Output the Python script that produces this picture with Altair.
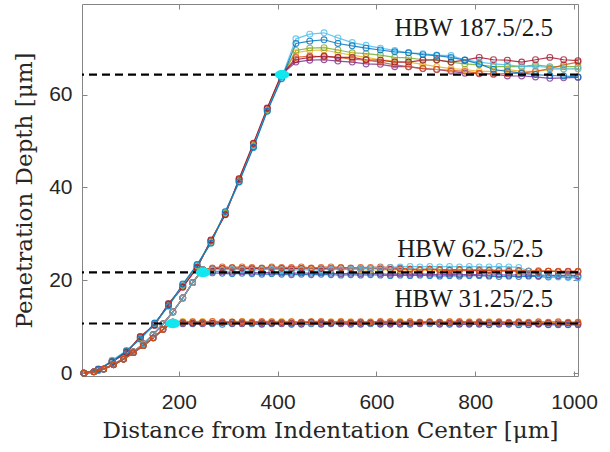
import altair as alt
import pandas as pd

# ---------------------------------------------------------------------------
# Measured depth profiles (µm) for three Brinell loads, one run per colour.
# ---------------------------------------------------------------------------
MATLAB_COLORS = {
    "blue": "#0072BD",
    "orange": "#D95319",
    "yellow": "#EDB120",
    "purple": "#7E2F8E",
    "green": "#77AC30",
    "lightblue": "#4DBEEE",
    "red": "#A2142F",
}

# HBW 187.5/2.5 -- coarser sampling
X_187 = [8, 37, 65, 94, 122, 151, 179, 208, 237, 265,
         294, 322, 351, 379, 408, 437, 465, 494, 522, 551,
         579, 608, 637, 665, 694, 722, 751, 779, 808, 837,
         865, 894, 922, 951, 979, 1008]

RUNS_187 = {
    "purple": [0, 0.9, 2.4, 4.4, 7.7, 10.3, 15.0, 18.7, 22.9, 28.4,
               34.3, 41.6, 48.8, 56.9, 64.3, 67.0, 67.4, 67.5, 67.2, 67.0,
               66.6, 66.5, 66.0, 66.0, 65.6, 65.4, 65.0, 64.6, 64.5, 64.4,
               64.0, 64.0, 63.8, 63.5, 63.6, 63.7],
    "yellow": [0, 0.7, 2.6, 4.7, 7.5, 10.6, 14.7, 18.9, 23.1, 28.2,
               34.6, 41.4, 49.1, 56.7, 64.1, 69.0, 69.5, 69.6, 69.0, 68.5,
               68.0, 67.5, 67.2, 67.0, 66.5, 66.0, 65.6, 65.4, 65.0, 65.0,
               65.4, 65.0, 65.0, 65.4, 65.5, 65.5],
    "green": [0, 0.6, 2.6, 4.6, 7.6, 10.5, 14.6, 18.8, 23.2, 28.5,
              34.4, 41.3, 49.2, 56.6, 63.8, 69.5, 70.0, 70.1, 69.6, 69.0,
              68.8, 68.5, 68.0, 67.9, 67.5, 67.4, 67.0, 66.6, 66.4, 66.0,
              66.0, 66.0, 66.4, 66.0, 66.0, 66.0],
    "orange": [0, 0.6, 2.7, 4.5, 7.8, 10.4, 14.9, 18.6, 22.8, 28.6,
               34.2, 41.8, 49.4, 57.0, 64.2, 68.0, 68.3, 68.1, 68.0, 67.6,
               67.4, 67.0, 66.4, 66.0, 65.6, 65.4, 65.2, 65.0, 64.6, 64.4,
               64.5, 64.6, 65.0, 65.6, 66.4, 67.0],
    "red": [0, 0.8, 2.5, 4.5, 7.9, 10.4, 14.8, 18.5, 22.7, 28.7,
            34.1, 41.9, 49.5, 57.1, 64.4, 67.5, 68.0, 68.3, 68.0, 68.0,
            67.5, 67.4, 67.0, 67.0, 67.4, 67.5, 67.0, 67.4, 68.0, 67.5,
            67.4, 67.0, 67.5, 68.0, 67.5, 67.3],
    "lightblue": [0, 0.7, 2.8, 4.9, 7.3, 10.7, 14.4, 19.0, 23.3, 28.1,
                  34.7, 41.1, 48.9, 56.5, 63.6, 72.0, 73.0, 73.3, 72.2, 71.2,
                  70.6, 70.0, 69.5, 69.0, 68.8, 68.5, 68.4, 67.5, 67.0, 66.6,
                  66.4, 66.0, 66.1, 65.8, 65.5, 65.6],
    "blue": [0, 0.8, 2.5, 4.8, 7.4, 10.8, 14.5, 19.2, 23.4, 28.0,
             34.8, 41.2, 48.6, 56.4, 63.4, 71.0, 71.5, 71.8, 71.0, 70.5,
             70.0, 69.6, 69.2, 69.0, 68.6, 68.4, 68.0, 67.4, 66.6, 65.4,
             65.0, 64.6, 64.3, 64.1, 64.0, 63.8],
}

# HBW 62.5/2.5 and HBW 31.25/2.5 -- finer sampling
X_FINE = [8, 28, 48, 68, 88, 108, 128, 148, 168, 188,
          208, 228, 248, 268, 288, 308, 328, 348, 368, 388,
          408, 428, 448, 468, 488, 508, 528, 548, 568, 588,
          608, 628, 648, 668, 688, 708, 728, 748, 768, 788,
          808, 828, 848, 868, 888, 908, 928, 948, 968, 988,
          1008]

RISE_62 = [0, 0.3, 0.9, 1.9, 3.1, 4.6, 6.3, 8.3, 10.6, 13.2,
           16.2, 19.5, 22.3]
PLATEAU_62 = {
    "blue": [21.6, 21.5, 21.4, 21.5, 21.4, 21.3, 21.4, 21.3, 21.2, 21.3,
             21.2, 21.3, 21.2, 21.1, 21.2, 21.1, 21.2, 21.1, 21.0, 21.1,
             21.0, 21.1, 21.0, 20.9, 21.0, 20.9, 21.0, 21.0, 20.9, 20.8,
             20.9, 20.8, 20.9, 20.8, 20.7, 20.8, 20.7, 20.8],
    "purple": [21.9, 21.8, 21.7, 21.8, 21.7, 21.6, 21.7, 21.6, 21.5, 21.6,
               21.5, 21.6, 21.5, 21.4, 21.5, 21.4, 21.5, 21.4, 21.3, 21.4,
               21.3, 21.4, 21.3, 21.2, 21.3, 21.2, 21.3, 21.2, 21.1, 21.2,
               21.1, 21.2, 21.1, 21.0, 21.1, 21.0, 21.1, 21.0],
    "yellow": [22.4, 22.5, 22.4, 22.5, 22.6, 22.5, 22.4, 22.5, 22.4, 22.5,
               22.4, 22.3, 22.4, 22.3, 22.4, 22.3, 22.2, 22.3, 22.2, 22.3,
               22.2, 22.1, 22.2, 22.1, 22.2, 22.1, 22.0, 22.1, 22.0, 22.1,
               22.0, 21.9, 22.0, 21.9, 22.0, 21.9, 21.8, 21.9],
    "red": [22.5, 22.6, 22.7, 22.6, 22.5, 22.6, 22.7, 22.6, 22.5, 22.6,
            22.6, 22.5, 22.6, 22.7, 22.6, 22.5, 22.6, 22.5, 22.4, 22.5,
            22.4, 22.3, 22.4, 22.3, 22.2, 22.3, 22.2, 22.1, 22.2, 22.1,
            22.0, 22.1, 22.0, 21.9, 22.0, 21.9, 22.0, 21.9],
    "orange": [22.7, 22.9, 22.8, 22.9, 22.8, 22.7, 22.9, 22.8, 22.8, 22.9,
               22.7, 22.8, 22.9, 22.8, 22.7, 22.8, 22.8, 22.9, 22.8, 22.7,
               22.4, 22.3, 22.4, 22.3, 22.2, 22.3, 22.2, 22.3, 22.2, 22.1,
               22.2, 22.1, 22.0, 22.1, 22.0, 22.0, 21.9, 22.0],
    "lightblue": [22.3, 22.2, 22.4, 22.3, 22.2, 22.3, 22.4, 22.3, 22.2, 22.3,
                  22.2, 22.3, 22.4, 22.3, 22.4, 22.5, 22.6, 22.7, 22.8, 22.9,
                  23.0, 22.9, 23.0, 22.9, 23.0, 22.9, 23.0, 22.9, 22.9, 23.0,
                  22.9, 22.8, 22.0, 21.3, 20.9, 20.7, 20.6, 20.5],
}

RISE_31 = [0, 0.3, 0.9, 1.8, 3.0, 4.4, 5.9, 7.6, 9.4, 11.0]
PLATEAU_31 = {
    "blue": [10.7, 10.6, 10.7, 10.6, 10.5, 10.6, 10.7, 10.6, 10.5, 10.6,
             10.7, 10.6, 10.5, 10.6, 10.5, 10.6, 10.7, 10.6, 10.5, 10.6,
             10.5, 10.6, 10.5, 10.6, 10.7, 10.6, 10.5, 10.6, 10.5, 10.6,
             10.5, 10.4, 10.5, 10.6, 10.5, 10.4, 10.5, 10.4, 10.5, 10.4,
             10.5],
    "purple": [10.6, 10.7, 10.6, 10.7, 10.8, 10.7, 10.6, 10.7, 10.6, 10.7,
               10.6, 10.5, 10.6, 10.7, 10.6, 10.7, 10.6, 10.5, 10.6, 10.7,
               10.6, 10.5, 10.6, 10.5, 10.6, 10.7, 10.6, 10.5, 10.6, 10.5,
               10.6, 10.5, 10.6, 10.5, 10.4, 10.5, 10.6, 10.5, 10.4, 10.5,
               10.4],
    "lightblue": [10.8, 10.9, 10.8, 10.7, 10.8, 10.9, 10.8, 10.7, 10.8, 10.9,
                  10.8, 10.7, 10.8, 10.7, 10.8, 10.9, 10.8, 10.7, 10.8, 10.7,
                  10.8, 10.9, 10.8, 10.7, 10.8, 10.7, 10.8, 10.7, 10.8, 10.9,
                  10.8, 10.7, 10.8, 10.7, 10.6, 10.7, 10.8, 10.7, 10.6, 10.7,
                  10.6],
    "yellow": [11.2, 11.1, 11.2, 11.1, 11.0, 11.1, 11.2, 11.1, 11.0, 11.1,
               11.2, 11.1, 11.0, 11.1, 11.0, 11.1, 11.2, 11.1, 11.0, 11.1,
               11.0, 11.1, 11.2, 11.1, 11.0, 11.1, 11.0, 11.1, 11.0, 11.1,
               11.0, 11.1, 11.0, 10.9, 11.0, 10.9, 11.0, 10.9, 11.0, 10.9,
               11.0],
    "red": [10.9, 10.8, 10.9, 10.8, 10.9, 11.0, 10.9, 10.8, 10.9, 10.8,
            10.9, 10.8, 10.9, 11.0, 10.9, 10.8, 10.9, 10.8, 10.9, 10.8,
            10.9, 10.8, 10.9, 10.8, 10.9, 11.0, 10.9, 10.8, 10.9, 10.8,
            10.9, 10.8, 10.9, 10.8, 10.9, 10.8, 10.7, 10.8, 10.7, 10.8,
            10.7],
    "orange": [11.0, 11.1, 11.0, 11.2, 11.1, 11.0, 11.1, 11.0, 11.2, 11.1,
               11.0, 11.1, 11.0, 11.1, 11.2, 11.0, 11.1, 11.0, 11.1, 11.0,
               11.2, 11.1, 11.0, 11.1, 11.0, 11.1, 11.0, 11.1, 11.2, 11.0,
               11.1, 11.0, 11.1, 11.0, 11.1, 11.0, 11.1, 11.0, 11.1, 11.0,
               11.0],
}

# Mean plateau depth per load (dashed lines) and where each profile reaches it
LEVELS = [64.3, 21.7, 10.7]
REACH_X = [409, 249, 188]

LOAD_LABELS = ["HBW 187.5/2.5", "HBW 62.5/2.5", "HBW 31.25/2.5"]
LABEL_X = [797, 790, 797]
LABEL_Y = [72.6, 25.0, 14.3]

X_TICKS = [200, 400, 600, 800, 1000]
Y_TICKS = [0, 20, 40, 60]

# ---------------------------------------------------------------------------
rows = []
for color, ys in RUNS_187.items():
    assert len(ys) == len(X_187)
    for x, y in zip(X_187, ys):
        rows.append({"run": "187.5-" + color, "color": color, "load": "187.5", "x": x, "y": y})
for tag, rise, plateaus in (("62.5", RISE_62, PLATEAU_62), ("31.25", RISE_31, PLATEAU_31)):
    for color, tail in plateaus.items():
        ys = rise + tail
        assert len(ys) == len(X_FINE)
        for x, y in zip(X_FINE, ys):
            rows.append({"run": tag + "-" + color, "color": color, "load": tag, "x": x, "y": y})
profiles = pd.DataFrame(rows)

levels = pd.DataFrame({"level": LEVELS, "x": REACH_X})
labels = pd.DataFrame({"text": LOAD_LABELS, "x": LABEL_X, "y": LABEL_Y})

X_DOMAIN = [4, 1008]
Y_DOMAIN = [-0.6, 79.5]
xs = alt.Scale(domain=X_DOMAIN, nice=False, zero=False)
ys_ = alt.Scale(domain=Y_DOMAIN, nice=False, zero=False)
color_scale = alt.Scale(domain=list(MATLAB_COLORS), range=list(MATLAB_COLORS.values()))

AX_GREY = "#858585"
TXT = "#262626"

x_bottom = alt.Axis(
    orient="bottom", values=X_TICKS, format="d", offset=-5, tickSize=5, domain=False,
    grid=False, tickColor=AX_GREY, labelPadding=15, labelFont="Liberation Sans",
    labelFontSize=21, labelColor=TXT, title="Distance from Indentation Center [μm]",
    titleFont="DejaVu Serif", titleFontSize=23, titleFontWeight="normal", titleColor=TXT,
    titlePadding=7,
)
y_left = alt.Axis(
    orient="left", values=Y_TICKS, format="d", offset=-5, tickSize=5, domain=False,
    grid=False, tickColor=AX_GREY, labelPadding=10, labelFont="Liberation Sans",
    labelFontSize=21, labelColor=TXT, title="Penetration Depth [μm]",
    titleFont="DejaVu Serif", titleFontSize=23, titleFontWeight="normal", titleColor=TXT,
    titlePadding=12,
)
x_top = alt.Axis(orient="top", values=X_TICKS, offset=-5, tickSize=5, domain=False,
                 grid=False, labels=False, title=None, tickColor=AX_GREY)
y_right = alt.Axis(orient="right", values=Y_TICKS, offset=-5, tickSize=5, domain=False,
                   grid=False, labels=False, title=None, tickColor=AX_GREY)

lines = alt.Chart(profiles).mark_line(strokeWidth=1.2, opacity=0.85).encode(
    x=alt.X("x:Q", scale=xs, axis=x_bottom),
    y=alt.Y("y:Q", scale=ys_, axis=y_left),
    color=alt.Color("color:N", scale=color_scale, legend=None),
    detail="run:N",
)

markers = alt.Chart(profiles).mark_point(filled=False, strokeWidth=1.1, opacity=0.8).encode(
    x=alt.X("x:Q", scale=xs, axis=None),
    y=alt.Y("y:Q", scale=ys_, axis=None),
    color=alt.Color("color:N", scale=color_scale, legend=None),
    size=alt.Size("load:N", scale=alt.Scale(domain=["187.5", "62.5", "31.25"], range=[34, 30, 30]),
                  legend=None),
)

dashed = alt.Chart(levels).mark_rule(color="black", strokeWidth=2.2, strokeDash=[8, 5]).encode(
    y=alt.Y("level:Q", scale=ys_, axis=None),
)

ellipse = "M -1 0 A 1 0.65 0 1 1 1 0 A 1 0.65 0 1 1 -1 0 Z"
reach = alt.Chart(levels).mark_point(shape=ellipse, filled=True, color="#12e6ee",
                                     opacity=1, size=210).encode(
    x=alt.X("x:Q", scale=xs, axis=x_top),
    y=alt.Y("level:Q", scale=ys_, axis=y_right),
)

texts = alt.Chart(labels).mark_text(font="Liberation Serif", fontSize=25, align="center",
                                    baseline="alphabetic", color="#1a1a1a").encode(
    x=alt.X("x:Q", scale=xs, axis=None),
    y=alt.Y("y:Q", scale=ys_, axis=None),
    text="text:N",
)

chart = (
    alt.layer(lines, markers, dashed, reach, texts)
    .resolve_axis(x="independent", y="independent")
    .properties(
        width=496,
        height=372,
        autosize=alt.AutoSizeParams(type="none"),
        padding={"left": 82, "top": 4, "right": 32, "bottom": 76},
        background="white",
    )
    .configure_view(stroke=AX_GREY, strokeWidth=1)
)

chart.save("out.html", embed_options={"renderer": "svg", "actions": False})
